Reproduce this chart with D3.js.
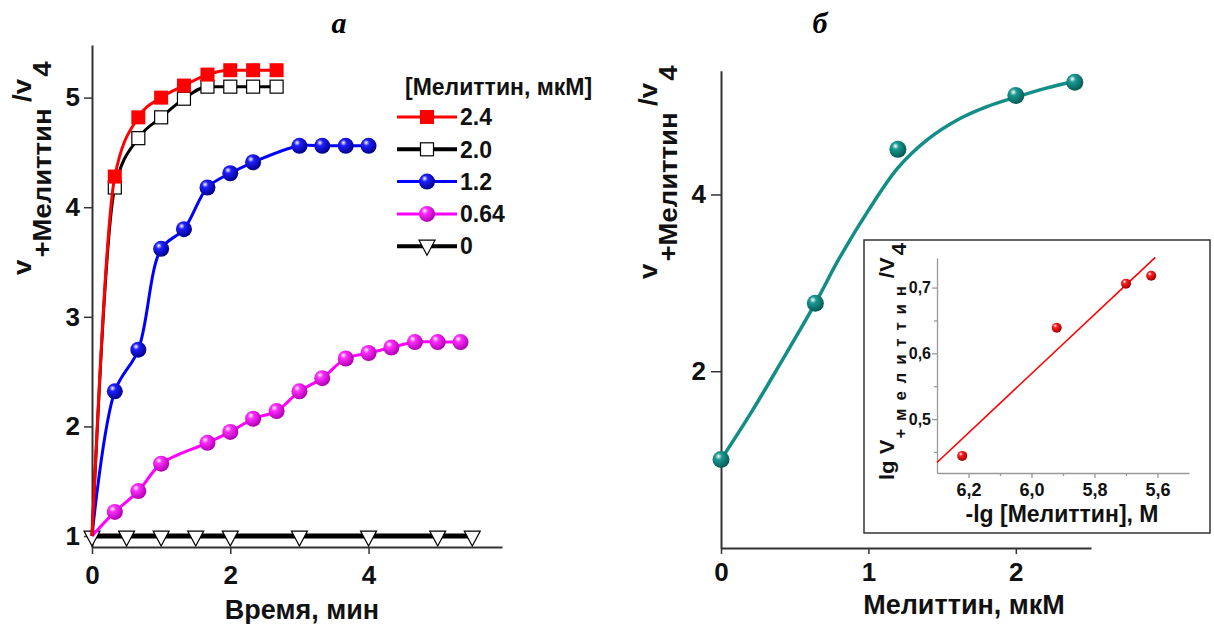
<!DOCTYPE html>
<html>
<head>
<meta charset="utf-8">
<script src="https://cdn.jsdelivr.net/npm/d3@7"></script>
<style>
  html, body { margin: 0; padding: 0; background: #fff; }
  svg { display: block; }
</style>
</head>
<body>
<svg width="1214" height="624"></svg>
<script>
// panel a: kinetics, time in min
const time24 = [0, 0.33, 0.67, 1, 1.33, 1.67, 2, 2.33, 2.67];
const ratio24 = [1, 4.28, 4.82, 5.0, 5.11, 5.21, 5.25, 5.25, 5.25];
const time20 = [0, 0.33, 0.67, 1, 1.33, 1.67, 2, 2.33, 2.67];
const ratio20 = [1, 4.18, 4.63, 4.82, 4.99, 5.10, 5.10, 5.10, 5.10];
const time12 = [0, 0.33, 0.67, 1, 1.33, 1.67, 2, 2.33, 3, 3.33, 3.67, 4];
const ratio12 = [1, 2.32, 2.70, 3.62, 3.80, 4.18, 4.31, 4.41, 4.56, 4.56, 4.56, 4.56];
const time064 = [0, 0.33, 0.67, 1, 1.67, 2, 2.33, 2.67, 3, 3.33, 3.67, 4, 4.33, 4.67, 5, 5.33];
const ratio064 = [1, 1.22, 1.41, 1.66, 1.85, 1.95, 2.07, 2.14, 2.32, 2.44, 2.62, 2.67, 2.72, 2.77, 2.77, 2.77];
const time0 = [0, 0.5, 1, 1.5, 2, 3, 4, 5, 5.5];
const ratio0 = [1, 1, 1, 1, 1, 1, 1, 1, 1];
const legendLabels = ["2.4", "2.0", "1.2", "0.64", "0"];

// panel b: dose dependence, melittin in uM
const conc = [0, 0.64, 1.2, 2.0, 2.4];
const ratioConc = [1.0, 2.77, 4.51, 5.12, 5.27];
const fitConc = [0, 0.2, 0.4, 0.64, 0.8, 1.0, 1.2, 1.4, 1.6, 1.8, 2.0, 2.2, 2.4];
const fitRatio = [1.0, 1.52, 2.08, 2.77, 3.27, 3.82, 4.30, 4.62, 4.84, 4.99, 5.10, 5.20, 5.28];

// inset: lg plot
const negLgConc = [6.22, 5.92, 5.70, 5.62];
const lgRatio = [0.444, 0.639, 0.706, 0.718];
const lineX = [6.30, 5.607];
const lineY = [0.434, 0.746];

const SANS = "'Liberation Sans', Arial, sans-serif";
const SERIF = "'Liberation Serif', 'Times New Roman', serif";

const svg = d3.select("svg");
const defs = svg.append("defs");

function sphere(id, base, dark) {
    const g = defs.append("radialGradient")
        .attr("id", id)
        .attr("cx", "38%").attr("cy", "35%").attr("r", "65%")
        .attr("fx", "35%").attr("fy", "30%");
    g.append("stop").attr("offset", "0%").attr("stop-color", "#fff");
    g.append("stop").attr("offset", "30%").attr("stop-color", base);
    g.append("stop").attr("offset", "100%").attr("stop-color", dark);
}
sphere("gBlue", "#1f1fff", "#00008a");
sphere("gMag", "#ff2cff", "#b000b0");
sphere("gTeal", "#1a9a93", "#075a55");
sphere("gRed", "#ff2020", "#a00000");

const zip = (xs, ys) => xs.map((v, i) => [v, ys[i]]);

// ---------- panel a ----------
const xA = d3.scaleLinear().domain([0, 5.93]).range([92, 502]);
const yA = d3.scaleLinear().domain([0.9, 5.48]).range([547, 45]);

const gA = svg.append("g");

const axA = gA.append("g")
    .attr("transform", "translate(0,547)")
    .call(d3.axisBottom(xA).tickValues([0, 2, 4]).tickFormat(d3.format("d"))
        .tickSize(7).tickPadding(12).tickSizeOuter(0));
const ayA = gA.append("g")
    .attr("transform", "translate(92,0)")
    .call(d3.axisLeft(yA).tickValues([1, 2, 3, 4, 5]).tickFormat(d3.format("d"))
        .tickSize(8).tickPadding(4).tickSizeOuter(0));

[axA, ayA].forEach(a => {
    a.select(".domain").attr("stroke", "#333").attr("stroke-width", 2);
    a.selectAll(".tick line").attr("stroke", "#333").attr("stroke-width", 1.5);
    a.selectAll(".tick text")
        .attr("fill", "#111")
        .style("font", `bold 26px ${SANS}`);
});

const seriesA = [
    {t: time0, v: ratio0, color: "#000", width: 5, marker: "tri", curve: d3.curveLinear},
    {t: time064, v: ratio064, color: "#ff00ff", width: 3, marker: "ball", fill: "url(#gMag)", curve: d3.curveCatmullRom.alpha(0.5)},
    {t: time12, v: ratio12, color: "#0000ff", width: 3, marker: "ball", fill: "url(#gBlue)", curve: d3.curveCatmullRom.alpha(0.5)},
    {t: time20, v: ratio20, color: "#000", width: 3, marker: "sqOpen", curve: d3.curveMonotoneX},
    {t: time24, v: ratio24, color: "#ff0000", width: 3, marker: "sq", curve: d3.curveMonotoneX}
];

function drawMarker(sel, type, fillUrl) {
    if (type === "ball") {
        sel.append("circle").attr("r", 8).attr("fill", fillUrl);
    } else if (type === "sq") {
        sel.append("rect").attr("x", -7).attr("y", -7).attr("width", 14).attr("height", 14)
            .attr("fill", "#ff0000");
    } else if (type === "sqOpen") {
        sel.append("rect").attr("x", -6.5).attr("y", -6.5).attr("width", 13).attr("height", 13)
            .attr("fill", "#fff").attr("stroke", "#000").attr("stroke-width", 1.2);
    } else if (type === "tri") {
        sel.append("path").attr("d", "M-8,-7L8,-7L0,8Z")
            .attr("fill", "#fff").attr("stroke", "#000").attr("stroke-width", 1.2);
    }
}

seriesA.forEach(s => {
    const pts = zip(s.t, s.v);
    gA.append("path")
        .datum(pts)
        .attr("fill", "none")
        .attr("stroke", s.color)
        .attr("stroke-width", s.width)
        .attr("d", d3.line().x(d => xA(d[0])).y(d => yA(d[1])).curve(s.curve));
    gA.append("g").selectAll("g")
        .data(s.marker === "tri" ? pts : pts.slice(1))
        .join("g")
        .attr("transform", d => `translate(${xA(d[0])},${yA(d[1]) + (s.marker === "tri" ? 2 : 0)})`)
        .each(function () { drawMarker(d3.select(this), s.marker, s.fill); });
});

// legend
const legend = svg.append("g");
legend.append("text")
    .attr("x", 405).attr("y", 95)
    .style("font", `bold 23px ${SANS}`)
    .attr("fill", "#111")
    .text("[Мелиттин, мкМ]");

const legendItems = seriesA.slice().reverse();
legend.selectAll("g.item")
    .data(legendItems)
    .join("g")
    .attr("class", "item")
    .attr("transform", (d, i) => `translate(0,${117 + i * 32.3})`)
    .each(function (d, i) {
        const g = d3.select(this);
        g.append("line").attr("x1", 397).attr("x2", 457)
            .attr("stroke", d.color).attr("stroke-width", d.marker === "tri" || d.marker === "sqOpen" ? 4 : 3);
        const m = g.append("g").attr("transform", `translate(427,${d.marker === "tri" ? 1 : 0})`);
        drawMarker(m, d.marker, d.fill);
        g.append("text")
            .attr("x", 460).attr("dy", "0.36em")
            .style("font", `bold 23px ${SANS}`)
            .attr("fill", "#111")
            .text(legendLabels[i]);
    });

// y title with sub/superscripts, stretched along its length like the original
function yTitle(x, y, opts) {
    const t = svg.append("text")
        .attr("transform", `translate(${x},${y}) rotate(-90) scale(${opts.stretch || 1},1)`)
        .attr("fill", "#111")
        .style("font", `bold ${opts.size}px ${SANS}`);
    t.append("tspan").text(opts.main);
    t.append("tspan").attr("dy", opts.shift).attr("dx", opts.gap || 0)
        .style("font-size", opts.subSize + "px")
        .style("letter-spacing", (opts.spacing || 0) + "px")
        .text(opts.sub);
    t.append("tspan").attr("dy", -opts.shift).attr("dx", opts.gap2 || 0).text(opts.sup);
    t.append("tspan").attr("dy", opts.shift).attr("dx", 2).text("4");
}

yTitle(31, 275, {size: 25, subSize: 25, shift: 20, main: "v", sub: "+Мелиттин", sup: "/v", gap: 2, gap2: 6, stretch: 1.1});

svg.append("text")
    .attr("x", 302).attr("y", 619)
    .attr("text-anchor", "middle")
    .attr("fill", "#111")
    .style("font", `bold 27px ${SANS}`)
    .text("Время, мин");

svg.append("text")
    .attr("x", 339).attr("y", 33)
    .attr("text-anchor", "middle")
    .attr("fill", "#000")
    .style("font", `italic bold 30px ${SERIF}`)
    .text("а");

svg.append("text")
    .attr("x", 820).attr("y", 33)
    .attr("text-anchor", "middle")
    .attr("fill", "#000")
    .style("font", `italic bold 30px ${SERIF}`)
    .text("б");

// ---------- panel b ----------
const xB = d3.scaleLinear().domain([0, 2.51]).range([721, 1091]);
const yB = d3.scaleLinear().domain([0, 5.4]).range([548, 70.7]);

const gB = svg.append("g");
const axB = gB.append("g")
    .attr("transform", "translate(0,548)")
    .call(d3.axisBottom(xB).tickValues([0, 1, 2]).tickFormat(d3.format("d"))
        .tickSize(6).tickPadding(9).tickSizeOuter(0));
const ayB = gB.append("g")
    .attr("transform", "translate(721,0)")
    .call(d3.axisLeft(yB).tickValues([2, 4]).tickFormat(d3.format("d"))
        .tickSize(10).tickPadding(5).tickSizeOuter(0));

[axB, ayB].forEach(a => {
    a.select(".domain").attr("stroke", "#333").attr("stroke-width", 2);
    a.selectAll(".tick line").attr("stroke", "#333").attr("stroke-width", 1.5);
    a.selectAll(".tick text")
        .attr("fill", "#111")
        .style("font", `bold 26px ${SANS}`);
});

gB.append("path")
    .datum(zip(fitConc, fitRatio))
    .attr("fill", "none")
    .attr("stroke", "#138d87")
    .attr("stroke-width", 3.5)
    .attr("d", d3.line().x(d => xB(d[0])).y(d => yB(d[1])).curve(d3.curveCatmullRom.alpha(0.5)));

gB.selectAll("circle.pt")
    .data(zip(conc, ratioConc))
    .join("circle")
    .attr("class", "pt")
    .attr("cx", d => xB(d[0]))
    .attr("cy", d => yB(d[1]))
    .attr("r", 8.5)
    .attr("fill", "url(#gTeal)");

yTitle(657, 279, {size: 25, subSize: 25, shift: 20, main: "v", sub: "+Мелиттин", sup: "/v", gap: 2, gap2: 6, stretch: 1.1});

svg.append("text")
    .attr("x", 964).attr("y", 614)
    .attr("text-anchor", "middle")
    .attr("fill", "#111")
    .style("font", `bold 27px ${SANS}`)
    .text("Мелиттин, мкМ");

// ---------- inset ----------
const gI = svg.append("g");
gI.append("rect")
    .attr("x", 864).attr("y", 240).attr("width", 346).attr("height", 293)
    .attr("fill", "#fff").attr("stroke", "#333").attr("stroke-width", 1.5);

const xI = d3.scaleLinear().domain([6.30, 5.50]).range([937, 1189]);
const yI = d3.scaleLinear().domain([0.418, 0.745]).range([473, 258]);
const comma = v => d3.format(".1f")(v).replace(".", ",");

const axI = gI.append("g")
    .attr("transform", "translate(0,473)")
    .call(d3.axisBottom(xI).tickValues([6.2, 6.0, 5.8, 5.6]).tickFormat(comma).tickSize(5).tickPadding(5).tickSizeOuter(0));
gI.append("g")
    .attr("transform", "translate(0,473)")
    .call(d3.axisBottom(xI).tickValues([6.1, 5.9, 5.7]).tickFormat("").tickSize(3).tickSizeOuter(0))
    .select(".domain").remove();
const ayI = gI.append("g")
    .attr("transform", "translate(937,0)")
    .call(d3.axisLeft(yI).tickValues([0.5, 0.6, 0.7]).tickFormat(comma).tickSize(5).tickPadding(1).tickSizeOuter(0));
gI.append("g")
    .attr("transform", "translate(937,0)")
    .call(d3.axisLeft(yI).tickValues([0.45, 0.55, 0.65]).tickFormat("").tickSize(3).tickSizeOuter(0))
    .select(".domain").remove();

gI.selectAll(".domain, .tick line").attr("stroke", "#999").attr("stroke-width", 1.3);
axI.selectAll(".tick text").attr("fill", "#111").style("font", `bold 18px ${SANS}`);
ayI.selectAll(".tick text").attr("fill", "#111").style("font", `bold 16px ${SANS}`);

gI.append("line")
    .attr("x1", xI(lineX[0])).attr("y1", yI(lineY[0]))
    .attr("x2", xI(lineX[1])).attr("y2", yI(lineY[1]))
    .attr("stroke", "#ff0000").attr("stroke-width", 1.6);

gI.selectAll("circle.pt")
    .data(zip(negLgConc, lgRatio))
    .join("circle")
    .attr("class", "pt")
    .attr("cx", d => xI(d[0]))
    .attr("cy", d => yI(d[1]))
    .attr("r", 5)
    .attr("fill", "url(#gRed)");

yTitle(894, 480, {size: 21, subSize: 16, shift: 12, main: "lg V", sub: "+мелиттин", sup: "/V", spacing: 7.5, gap: 1, gap2: 0, stretch: 1.05});

gI.append("text")
    .attr("x", 1062).attr("y", 522)
    .attr("text-anchor", "middle")
    .attr("fill", "#111")
    .style("font", `bold 23px ${SANS}`)
    .text("-lg [Мелиттин], М");
</script>
</body>
</html>
